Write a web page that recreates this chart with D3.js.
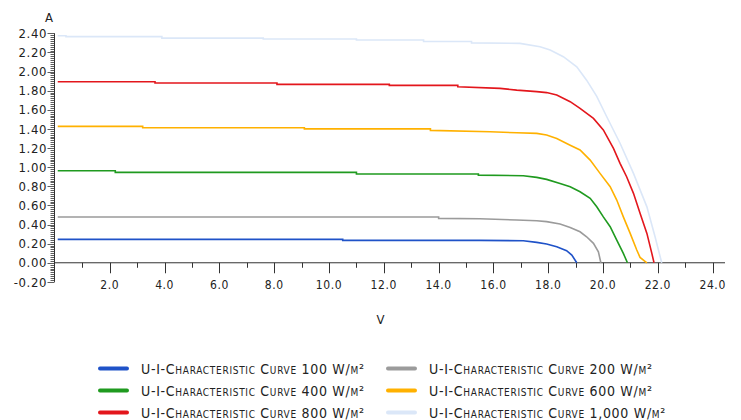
<!DOCTYPE html>
<html><head><meta charset="utf-8">
<script src="https://cdn.jsdelivr.net/npm/d3@7"></script>
<style>
body{margin:0;background:#fff;}
svg text{font-family:"DejaVu Sans Condensed","DejaVu Sans",sans-serif;fill:#222;}
</style></head>
<body><svg id="c" width="741" height="420"></svg>
<script>
// ---- data (Voltage V, Current A) ----
const xTicks = [2,4,6,8,10,12,14,16,18,20,22,24];
const yTicks = [-0.2,0,0.2,0.4,0.6,0.8,1.0,1.2,1.4,1.6,1.8,2.0,2.2,2.4];
const seriesNames = ["U-I-Characteristic Curve 100 W/m²","U-I-Characteristic Curve 200 W/m²","U-I-Characteristic Curve 400 W/m²","U-I-Characteristic Curve 600 W/m²","U-I-Characteristic Curve 800 W/m²","U-I-Characteristic Curve 1,000 W/m²"];
const seriesColors = ["#1f52c8","#9b9b9b","#1f9a1f","#ffb100","#e3161c","#dbe7f8"];
const curve100 = [[0.1,0.245],[10.5,0.245],[10.5,0.234],[15.5,0.234],[17.09,0.23],[17.58,0.213],[17.94,0.196],[18.31,0.167],[18.67,0.126],[18.86,0.08],[19.04,0]];
const curve200 = [[0.1,0.478],[14.0,0.478],[14.0,0.464],[15.5,0.46],[16.85,0.447],[17.58,0.44],[17.94,0.43],[18.43,0.405],[18.80,0.37],[19.16,0.324],[19.40,0.272],[19.65,0.203],[19.83,0.115],[19.92,0]];
const curve400 = [[0.1,0.962],[2.2,0.962],[2.2,0.945],[11.0,0.945],[11.0,0.928],[15.45,0.928],[15.45,0.917],[17.09,0.91],[17.58,0.893],[17.94,0.872],[18.43,0.83],[18.80,0.795],[19.16,0.743],[19.53,0.674],[19.77,0.586],[20.01,0.48],[20.26,0.377],[20.50,0.237],[20.74,0.098],[20.89,0]];
const curve600 = [[0.1,1.427],[3.2,1.427],[3.2,1.412],[9.1,1.412],[9.1,1.40],[13.7,1.40],[13.7,1.385],[15.88,1.37],[16.85,1.36],[17.58,1.353],[17.94,1.336],[18.31,1.30],[18.80,1.23],[19.16,1.18],[19.53,1.074],[19.89,0.935],[20.26,0.795],[20.50,0.656],[20.74,0.48],[20.99,0.307],[21.23,0.133],[21.35,0.056],[21.60,0]];
const curve800 = [[0.1,1.893],[3.65,1.893],[3.65,1.88],[8.1,1.88],[8.1,1.866],[12.2,1.866],[12.2,1.855],[14.7,1.855],[14.7,1.84],[16.24,1.824],[16.85,1.806],[17.58,1.79],[17.94,1.78],[18.31,1.754],[18.80,1.685],[19.16,1.615],[19.65,1.51],[20.01,1.39],[20.38,1.197],[20.62,1.04],[20.86,0.90],[21.11,0.726],[21.35,0.517],[21.60,0.307],[21.78,0.098],[21.86,0]];
const curve1000 = [[0.1,2.375],[0.4,2.375],[0.4,2.365],[3.9,2.365],[3.9,2.35],[7.6,2.35],[7.6,2.34],[11.0,2.34],[11.0,2.33],[13.45,2.33],[13.45,2.315],[15.2,2.315],[15.2,2.30],[16.97,2.295],[17.70,2.26],[18.07,2.225],[18.55,2.155],[19.04,2.05],[19.40,1.91],[19.77,1.74],[20.13,1.53],[20.62,1.25],[21.11,0.935],[21.60,0.585],[21.90,0.27],[22.14,0]];
const curves = [curve100,curve200,curve400,curve600,curve800,curve1000];

const svg = d3.select("#c");
const x = d3.scaleLinear().domain([0,24.45]).range([55,725]);
const y = d3.scaleLinear().domain([-0.2,2.4]).range([281.9,33.3]);
const axisColor = "#333";

// x axis at y=0
const gx = svg.append("g");
gx.append("line").attr("x1",x(0)).attr("x2",x(24.45)).attr("y1",y(0)).attr("y2",y(0)).attr("stroke",axisColor);
const xMinor = d3.range(1,25,1);
gx.selectAll(".xm").data(xMinor).join("line")
  .attr("x1",d=>Math.round(x(d))+0.5).attr("x2",d=>Math.round(x(d))+0.5)
  .attr("y1",y(0)).attr("y2",d=> d%2===0 ? y(0)+10.5 : y(0)+5)
  .attr("stroke",axisColor);
gx.selectAll(".xl").data(xTicks).join("text")
  .attr("x",d=>x(d)).attr("y",y(0)+26).attr("text-anchor","middle")
  .attr("font-size",12).attr("letter-spacing",0.6)
  .text(d=>d.toFixed(1));

// y axis
const gy = svg.append("g");
gy.append("line").attr("x1",54.5).attr("x2",54.5).attr("y1",y(2.4)).attr("y2",y(-0.2)).attr("stroke",axisColor);
const yMinor = d3.range(-10,121,1).map(k=>k*0.02);
gy.selectAll(".ym").data(yMinor).join("line")
  .attr("x1",d=>Math.abs(Math.round(d*50)%10)===0 ? 47.5 : 50.5).attr("x2",54.5)
  .attr("y1",d=>Math.round(y(d))+0.5).attr("y2",d=>Math.round(y(d))+0.5)
  .attr("stroke",axisColor).attr("stroke-width",0.8);
gy.selectAll(".yl").data(yTicks).join("text")
  .attr("x",47).attr("y",d=>y(d)).attr("dy","0.36em").attr("text-anchor","end")
  .attr("font-size",13).attr("letter-spacing",0.6)
  .text(d=>d.toFixed(2));

// axis titles
svg.append("text").attr("x",49).attr("y",22).attr("text-anchor","middle").attr("font-size",13).text("A");
svg.append("text").attr("x",380.5).attr("y",324).attr("text-anchor","middle").attr("font-size",13).text("V");

// curves
const line = d3.line().x(d=>x(d[0])).y(d=>y(d[1]));
svg.append("g").selectAll("path").data(curves).join("path")
  .attr("d",line).attr("fill","none")
  .attr("stroke",(d,i)=>seriesColors[i]).attr("stroke-width",1.6);

// legend
const legendOrder = [0,1,2,3,4,5];
const lg = svg.append("g");
legendOrder.forEach((s,k)=>{
  const col = k%2, row = Math.floor(k/2);
  const lx = col===0 ? 100 : 388;
  const ly = 368.5 + row*22;
  lg.append("line").attr("x1",lx).attr("x2",lx+27).attr("y1",ly).attr("y2",ly)
    .attr("stroke",seriesColors[s]).attr("stroke-width",4).attr("stroke-linecap","round");
  lg.append("text").attr("x",lx+41).attr("y",ly).attr("dy","0.38em")
    .attr("font-size",14).attr("font-variant","small-caps").attr("letter-spacing",0.7)
    .text(seriesNames[s]);
});
</script></body></html>
